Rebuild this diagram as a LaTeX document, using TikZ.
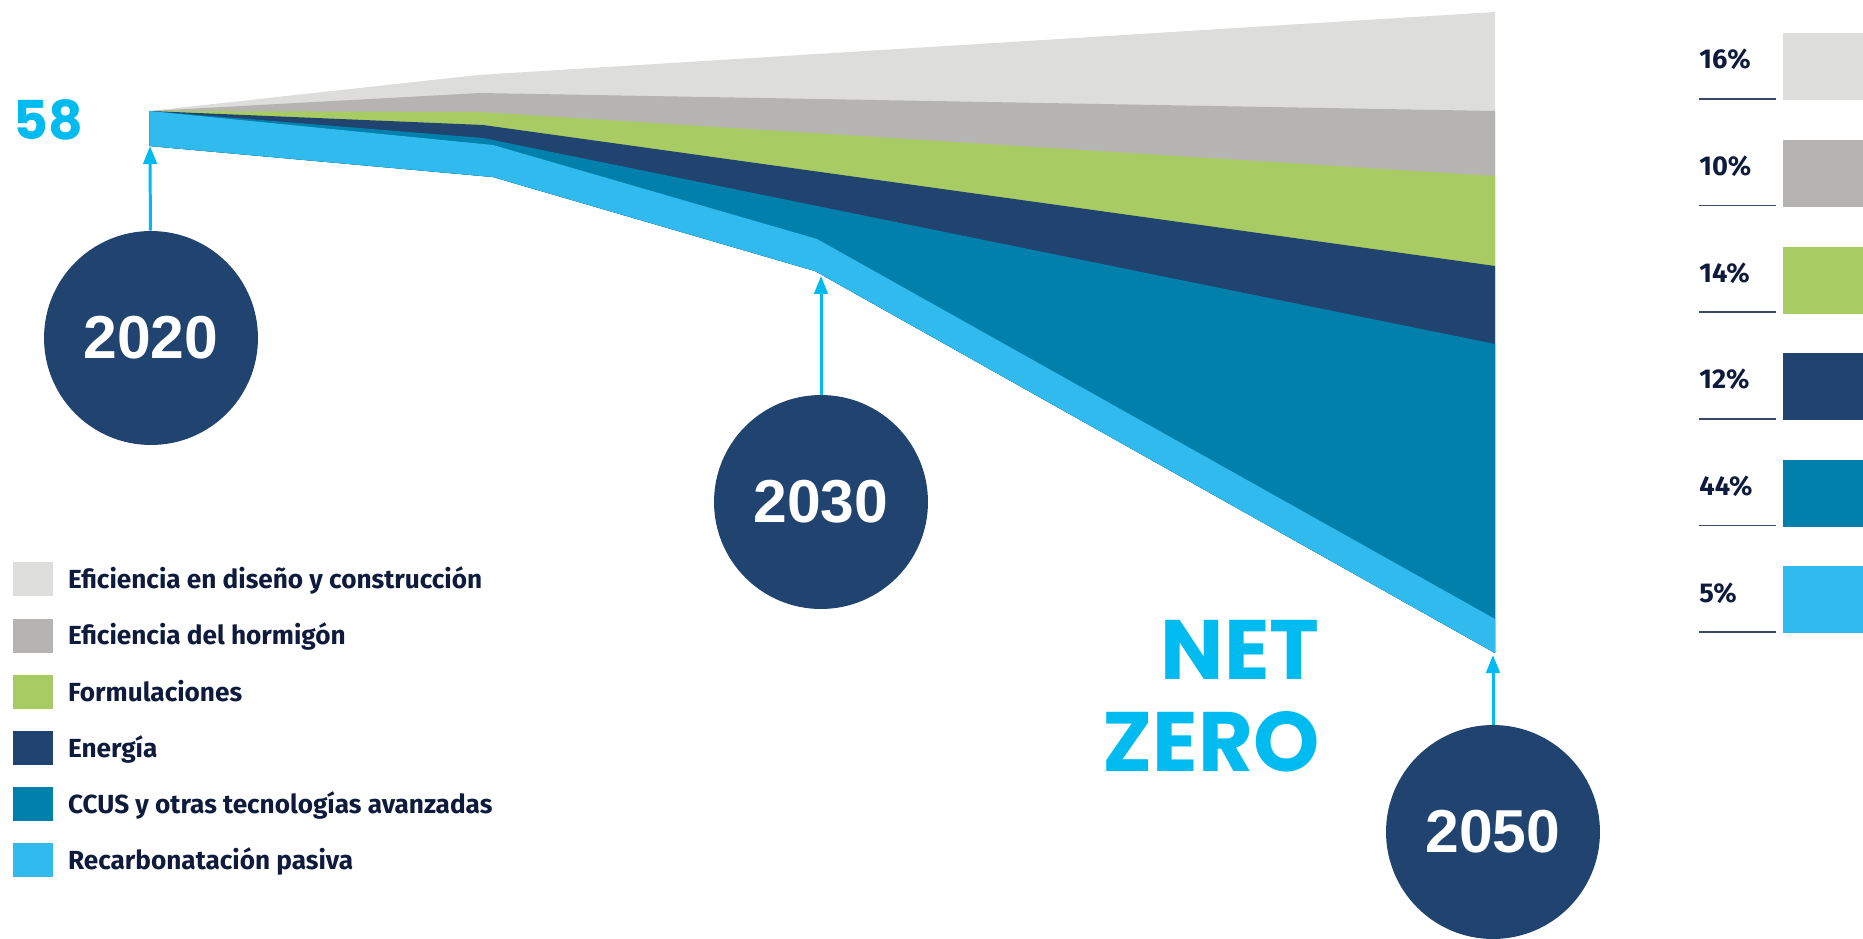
\documentclass[tikz,border=0pt]{standalone}
\usepackage{fontspec}
\setmainfont{Fira Sans}
\newfontfamily\yearfont{Liberation Sans}
\newfontfamily\headfont{Poppins}
\usepackage{tikz}
\usetikzlibrary{arrows.meta, positioning}
\definecolor{bandlgrey}{RGB}{221,221,219}
\definecolor{bandmgrey}{RGB}{181,180,178}
\definecolor{bandgreen}{RGB}{168,203,99}
\definecolor{bandnavy}{RGB}{32,68,111}
\definecolor{bandteal}{RGB}{0,128,171}
\definecolor{bandlblue}{RGB}{49,186,238}
\definecolor{cyanlbl}{RGB}{0,187,240}
\definecolor{legendtext}{RGB}{14,27,61}
\definecolor{rulecol}{RGB}{55,72,105}

\begin{document}
\begin{tikzpicture}[x=0.02cm, y=-0.02cm,
  yearcircle/.style={circle, fill=bandnavy, text=white, minimum size=4.28cm, inner sep=0pt, font=\yearfont\bfseries\fontsize{34.5}{34.5}\selectfont},
  arrowline/.style={draw=cyanlbl, line width=1.7pt, -{Triangle[width=0.27cm, length=0.36cm]}},
  swatch/.style={minimum width=0.8cm, minimum height=0.68cm, inner sep=0pt, anchor=north west},
  legtext/.style={anchor=base west, inner sep=0pt, text=legendtext, font=\bfseries\fontsize{14.9}{17}\selectfont},
  pctbox/.style={minimum width=1.6cm, minimum height=1.34cm, inner sep=0pt, anchor=north west},
  pcttext/.style={anchor=base west, inner sep=0pt, text=legendtext, font=\bfseries\fontsize{15.5}{17}\selectfont},
  pctrule/.style={draw=rulecol, line width=0.8pt},
  bigcyan/.style={anchor=base east, inner sep=0pt, text=cyanlbl, font=\headfont\bfseries\fontsize{48}{48}\selectfont}
]
  \useasboundingbox (0,0) rectangle (1863,939);

  % Bands, stacked from the top one down
  \fill[bandlgrey] (149.5,111) -- (478,75) -- (1495,12) -- (1495,653) -- (815,271) -- (493,177) -- (149.5,146) -- cycle;
  \fill[bandmgrey] (149.5,111) -- (480,93) -- (1495,111) -- (1495,653) -- (815,271) -- (493,177) -- (149.5,146) -- cycle;
  \fill[bandgreen] (149.5,111) -- (480,112) -- (1495,176) -- (1495,653) -- (815,271) -- (493,177) -- (149.5,146) -- cycle;
  \fill[bandnavy] (149.5,111) -- (483,125) -- (1495,266) -- (1495,653) -- (815,271) -- (493,177) -- (149.5,146) -- cycle;
  \fill[bandteal] (149.5,111) -- (483,138) -- (1495,344) -- (1495,653) -- (815,271) -- (493,177) -- (149.5,146) -- cycle;
  \fill[bandlblue] (149.5,111) -- (493,145) -- (817,239) -- (1495,619) -- (1495,653) -- (815,271) -- (493,177) -- (149.5,146) -- cycle;

  % Start value
  \node[anchor=base west, inner sep=0pt, text=cyanlbl, font=\headfont\bfseries\fontsize{30.5}{30.5}\selectfont] (startlbl) at (13,140) {58};

  % Years
  \coordinate (t2020) at (150,146);
  \coordinate (t2030) at (821,276);
  \coordinate (t2050) at (1493,655);
  \node[yearcircle] (y2020) at (151,338) {2020};
  \node[yearcircle] (y2030) at (821,502) {2030};
  \node[yearcircle] (y2050) at (1493,832) {2050};
  \draw[arrowline] (y2020) -- (t2020);
  \draw[arrowline] (y2030) -- (t2030);
  \draw[arrowline] (y2050) -- (t2050);

  \node[bigcyan] (netlbl) at (1320,679) {NET};
  \node[bigcyan] (zerolbl) at (1320,771) {ZERO};

  % Legend, left
  \foreach \col/\txt [count=\i from 0] in {bandlgrey/Eficiencia en diseño y construcción, bandmgrey/Eficiencia del hormigón, bandgreen/Formulaciones, bandnavy/Energía, bandteal/CCUS y otras tecnologías avanzadas, bandlblue/Recarbonatación pasiva}{
    \node[swatch, fill=\col] (sw\i) at (13,562+56.2*\i) {};
    \node[legtext] (lt\i) at ([xshift=0.28cm, yshift=0.16cm]sw\i.south east) {\txt};
  }

  % Shares, right
  \foreach \pct/\col [count=\i from 0] in {16/bandlgrey, 10/bandmgrey, 14/bandgreen, 12/bandnavy, 44/bandteal, 5/bandlblue}{
    \pgfmathsetmacro{\ty}{33+106.6*\i}
    \node[pctbox, fill=\col] (pb\i) at (1783,\ty) {};
    \node[pcttext] (pt\i) at (1699,\ty+36) {\pct\%};
    \draw[pctrule] (1699,\ty+66) -- (1776,\ty+66);
  }
\end{tikzpicture}
\end{document}
